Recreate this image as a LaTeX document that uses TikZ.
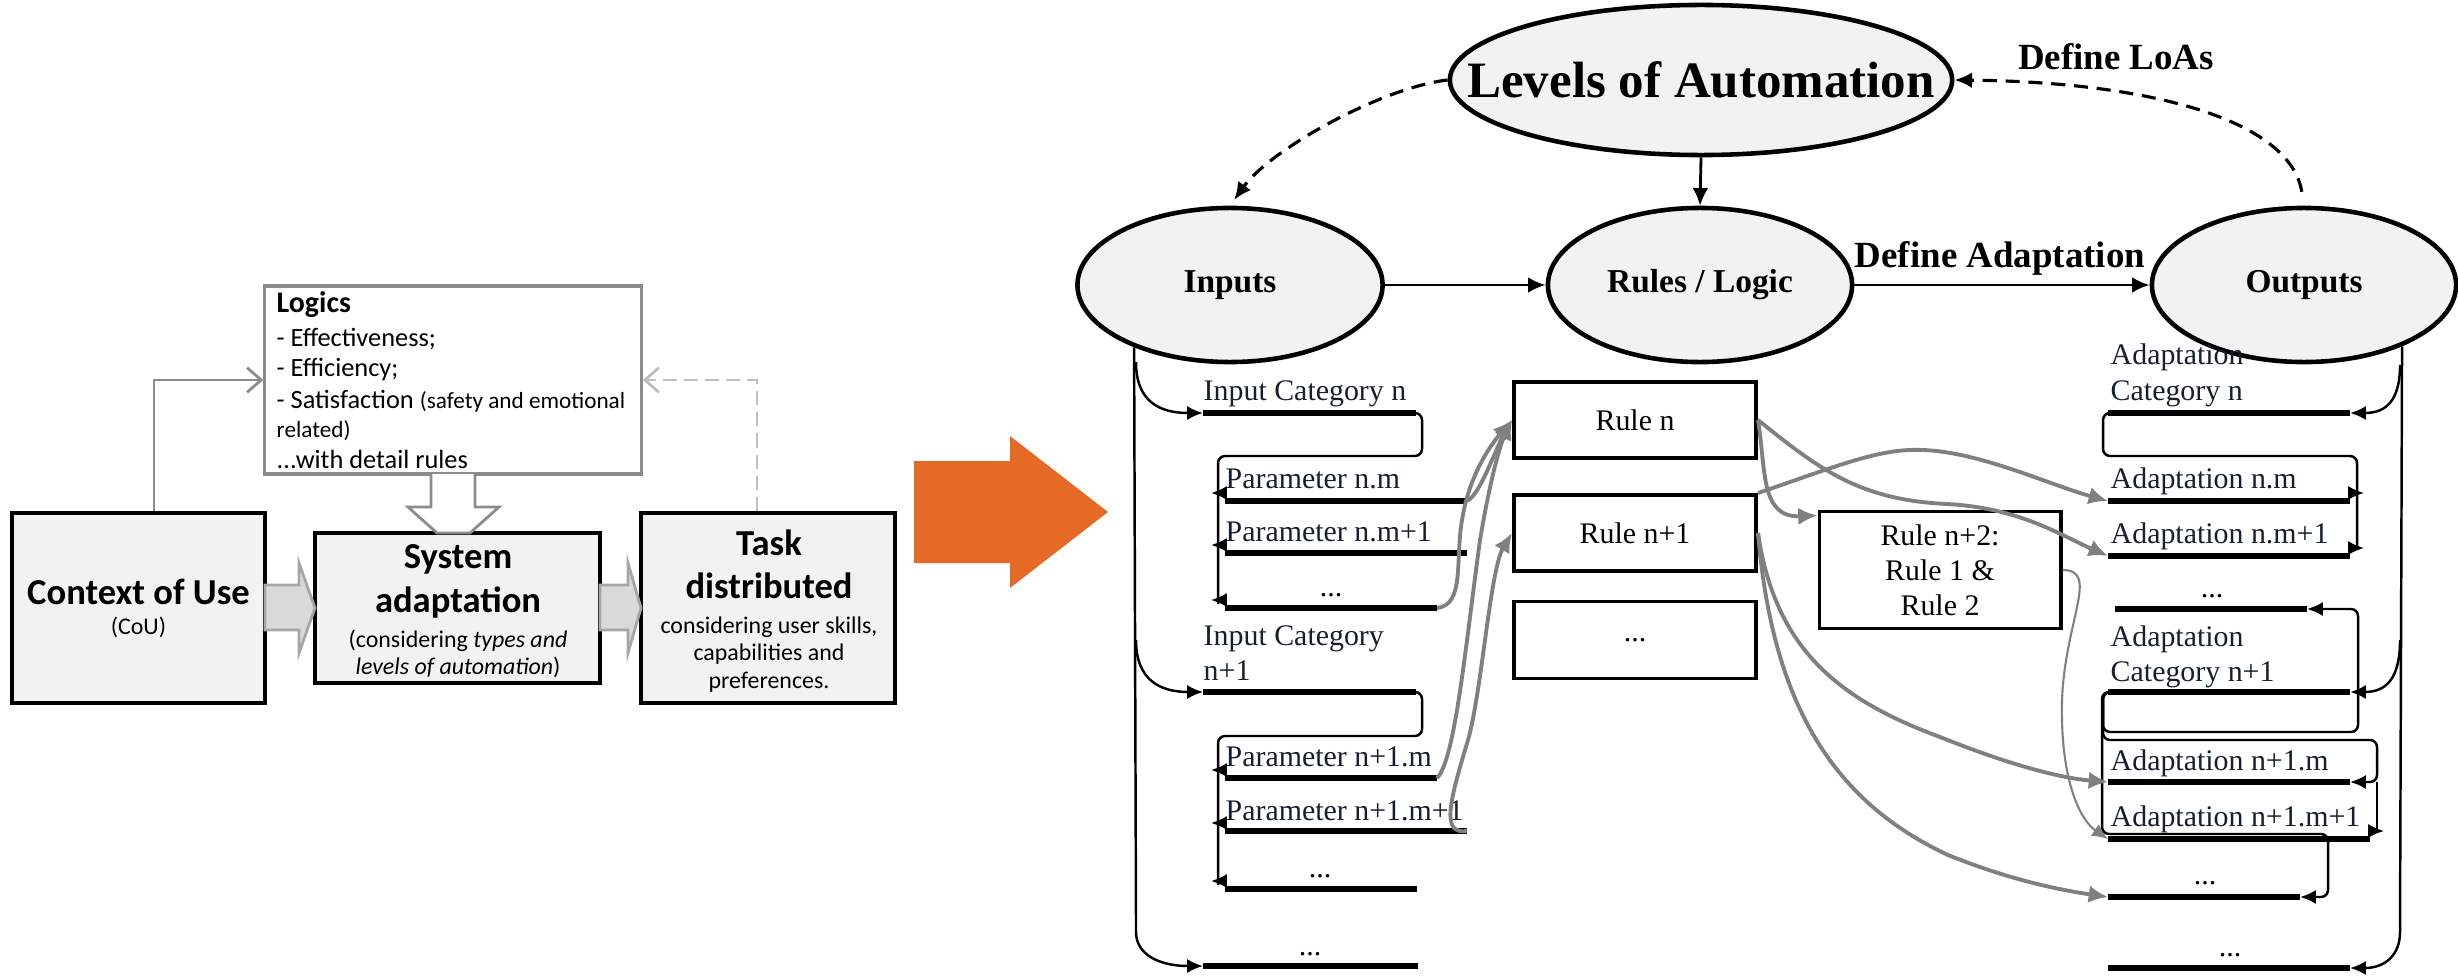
\documentclass[tikz,border=0pt]{standalone}
\usepackage{fontspec}
\setmainfont{Liberation Serif}
\newfontfamily\calibri{Carlito}
\usetikzlibrary{positioning,arrows.meta,shapes.geometric}

\definecolor{ellfill}{RGB}{242,242,242}
\definecolor{boxfill}{RGB}{242,242,242}
\definecolor{arrfill}{RGB}{217,217,217}
\definecolor{arrline}{RGB}{166,166,166}
\definecolor{linegray}{RGB}{140,140,140}
\definecolor{dashgray}{RGB}{191,191,191}
\definecolor{orangearr}{RGB}{228,106,37}
\definecolor{itemtxt}{RGB}{20,32,48}
\definecolor{flowgray}{RGB}{128,128,128}

\tikzset{
  ell/.style={ellipse, draw, line width=1.3pt, fill=ellfill, inner sep=0pt,
    font=\bfseries\fontsize{9.5}{11}\selectfont},
  cbox/.style={draw, line width=1.2pt, fill=boxfill},
  logicbox/.style={draw=linegray, line width=0.9pt, fill=white},
  rulebox/.style={draw, line width=1.1pt, minimum width=2.42cm, minimum height=0.76cm,
    align=center, font=\fontsize{8.5}{10}\selectfont},
  itembar/.style={line width=1.7pt},
  itm/.style={anchor=base west, inner sep=0pt, text=itemtxt, font=\fontsize{8.5}{10}\selectfont},
  dots/.style={anchor=base, inner sep=0pt, font=\fontsize{8.5}{10}\selectfont},
  conn/.style={line width=0.7pt, rounded corners=2pt},
  lhead/.style={-{Latex[length=4.5pt,width=4pt]}, line width=0.7pt},
  flowarr/.style={draw=flowgray, line width=1.1pt, -{Latex[length=5.5pt,width=5pt]}},
  thinflow/.style={draw=flowgray, line width=0.6pt, -{Latex[length=4.5pt,width=4pt]}},
  dasharr/.style={line width=0.9pt, dash pattern=on 4pt off 2.5pt, -{Latex[length=5pt,width=4.5pt]}},
  lgtxt/.style={anchor=base west, inner sep=0pt, font=\calibri\fontsize{7.5}{9}\selectfont},
  bigb/.style={anchor=base, inner sep=0pt, font=\calibri\bfseries\fontsize{10.4}{12}\selectfont},
  smallt/.style={anchor=base, inner sep=0pt, font=\calibri\fontsize{6.8}{8}\selectfont},
  blockarr/.style={draw=arrline, line width=0.8pt, fill=arrfill},
  downarr/.style={draw=linegray, line width=0.8pt, fill=white}
}

\begin{document}
\begin{tikzpicture}[x=0.01cm, y=-0.01cm]
\useasboundingbox (0,0) rectangle (2458,976);

% ---- left: context of use -> adaptation -> task
\node[logicbox, minimum width=3.76cm, minimum height=1.88cm] (logics) at (453,380) {};
\node[lgtxt, font=\calibri\bfseries\fontsize{8.5}{10}\selectfont] (lghead) at (276,312) {Logics};
\node[lgtxt] (lg1) at (276,346) {- Effectiveness;};
\node[lgtxt] (lg2) at (276,376) {- Efficiency;};
\node[lgtxt] (lg3) at (276,408) {- Satisfaction {\fontsize{6.6}{8}\selectfont(safety and emotional}};
\node[lgtxt, font=\calibri\fontsize{6.6}{8}\selectfont] (lg4) at (276,437) {related)};
\node[lgtxt] (lg5) at (276,468) {...with detail rules};

\node[cbox, minimum width=2.53cm, minimum height=1.9cm] (cou) at (138.5,608) {};
\node[cbox, minimum width=2.85cm, minimum height=1.5cm] (sysad) at (457.5,608) {};
\node[cbox, minimum width=2.54cm, minimum height=1.9cm] (task) at (768,608) {};

\node[bigb] (coutitle) at (138.5,604) {Context of Use};
\node[smallt] (cousub) at (138.5,634) {(CoU)};
\node[bigb] (sattl1) at (458,568) {System};
\node[bigb] (sattl2) at (458,612) {adaptation};
\node[smallt] (sasub1) at (458,647) {(considering \textit{types and}};
\node[smallt] (sasub2) at (458,674) {\textit{levels of automation})};
\node[bigb] (taskttl1) at (769,555) {Task};
\node[bigb] (taskttl2) at (769,598) {distributed};
\node[smallt] (tasksub1) at (769,633) {considering user skills,};
\node[smallt] (tasksub2) at (769,660) {capabilities and};
\node[smallt] (tasksub3) at (769,688) {preferences.};

% block arrows
\filldraw[blockarr] (265,585) -- (299,585) -- (299,563) -- (315,608) -- (299,653) -- (299,630) -- (265,630) -- cycle;
\filldraw[blockarr] (600,585) -- (628,585) -- (628,563) -- (641,608) -- (628,653) -- (628,630) -- (600,630) -- cycle;
\filldraw[downarr] (431,474) -- (431,507) -- (408,507) -- (437,533) -- (470,533) -- (499,507) -- (475,507) -- (475,474);

\draw[draw=linegray, line width=0.8pt, -{Straight Barb[length=4pt,width=7pt]}] ([xshift=0.155cm]cou.north) |- (logics.west);
\draw[draw=dashgray, line width=0.8pt, dash pattern=on 4pt off 2pt, -{Straight Barb[length=4pt,width=7pt]}] ([xshift=-0.11cm]task.north) |- (logics.east);

% big orange arrow
\fill[orangearr] (914,461) -- (1010,461) -- (1010,436) -- (1108,512) -- (1010,588) -- (1010,563) -- (914,563) -- cycle;

% ---- right: levels of automation
\node[ell, minimum width=5.02cm, minimum height=1.5cm, font=\bfseries\fontsize{14.5}{17}\selectfont] (loa) at (1701,80) {\makebox[0pt]{Levels of Automation}};
\node[ell, minimum width=3.05cm, minimum height=1.54cm] (inputs) at (1230,285) {Inputs};
\node[ell, minimum width=3.04cm, minimum height=1.54cm] (rules) at (1700,285) {Rules / Logic};
\node[ell, minimum width=3.04cm, minimum height=1.54cm] (outputs) at (2304,285) {Outputs};
\node[font=\bfseries\fontsize{10.5}{12}\selectfont, inner sep=0pt] (defloa) at (2116,57) {Define LoAs};
\node[font=\bfseries\fontsize{10.5}{12}\selectfont, inner sep=0pt] (defadapt) at (2000,258) {Define Adaptation};

\draw[-{Latex[length=5pt,width=4.5pt]}, line width=0.8pt] (loa.south) -- (rules.north);
\draw[-{Latex[length=5pt,width=4.5pt]}, line width=0.8pt] (inputs.east) -- (rules.west);
\draw[-{Latex[length=5pt,width=4.5pt]}, line width=0.8pt] (rules.east) -- (outputs.west);
\draw[dasharr, shorten >=2pt] (loa.west) .. controls (1380,88) and (1270,150) .. (inputs.north);
\draw[dasharr, shorten <=4pt] (outputs.north) .. controls (2290,120) and (2150,82) .. (loa.east);

% ---- inputs column
\coordinate (icn-w) at (1203,413);   \coordinate (icn-e) at (1416,413);
\coordinate (pnm-w) at (1225,501);   \coordinate (pnm-e) at (1467,501);
\coordinate (pnm1-w) at (1225,553);  \coordinate (pnm1-e) at (1467,553);
\coordinate (pnd-w) at (1225,608);   \coordinate (pnd-e) at (1437,608);
\coordinate (icn1-w) at (1203,692);  \coordinate (icn1-e) at (1416,692);
\coordinate (pn1m-w) at (1225,778);  \coordinate (pn1m-e) at (1437,778);
\coordinate (pn1m1-w) at (1225,831); \coordinate (pn1m1-e) at (1467,831);
\coordinate (pn1d-w) at (1225,889);  \coordinate (pn1d-e) at (1417,889);
\coordinate (icd-w) at (1203,966);   \coordinate (icd-e) at (1418,966);
\coordinate (itrk1) at (1136,362);   \coordinate (itrk2) at (1136,640);

\draw[itembar] (icn-w) -- (icn-e);
\draw[itembar] (pnm-w) -- (pnm-e);
\draw[itembar] (pnm1-w) -- (pnm1-e);
\draw[itembar] (pnd-w) -- (pnd-e);
\draw[itembar] (icn1-w) -- (icn1-e);
\draw[itembar] (pn1m-w) -- (pn1m-e);
\draw[itembar] (pn1m1-w) -- (pn1m1-e);
\draw[itembar] (pn1d-w) -- (pn1d-e);
\draw[itembar] (icd-w) -- (icd-e);

\node[itm] (icnt) at (1203,400) {Input Category n};
\node[itm] (pnmt) at (1225,488) {Parameter n.m};
\node[itm] (pnm1t) at (1225,541) {Parameter n.m+1};
\node[dots] (pndt) at (1331,596) {...};
\node[itm] (icn1t) at (1203,645) {Input Category};
\node[itm] (icn1u) at (1203,680) {n+1};
\node[itm] (pn1mt) at (1225,766) {Parameter n+1.m};
\node[itm] (pn1m1t) at (1225,820) {Parameter n+1.m+1};
\node[dots] (pn1dt) at (1320,877) {...};
\node[dots] (icdt) at (1310,955) {...};

\draw[conn, lhead] (inputs.213) -- (1136,925) .. controls (1136,955) and (1160,966) .. (icd-w);
\draw[conn, lhead] (itrk1) .. controls (1136,402) and (1160,413) .. (icn-w);
\draw[conn, lhead] (itrk2) .. controls (1136,680) and (1160,692) .. (icn1-w);
\draw[conn] (icn-e) -| (1422,456) -| (1218,604);
\draw[conn] (icn1-e) -| (1422,736) -| (1218,885);
\draw[lhead] ([yshift=0.08cm]pnm-w) -- ++(-14,0);
\draw[lhead] ([yshift=0.08cm]pnm1-w) -- ++(-14,0);
\draw[lhead] ([yshift=0.08cm]pnd-w) -- ++(-14,0);
\draw[lhead] ([yshift=0.08cm]pn1m-w) -- ++(-14,0);
\draw[lhead] ([yshift=0.08cm]pn1m1-w) -- ++(-14,0);
\draw[lhead] ([yshift=0.08cm]pn1d-w) -- ++(-14,0);

% ---- rules column
\node[rulebox] (rulen) at (1635,420) {Rule n};
\node[rulebox] (rulen1) at (1635,533) {Rule n+1};
\node[rulebox, minimum height=0.77cm] (ruledots) at (1635,640) {...};
\node[rulebox, minimum width=2.41cm, minimum height=1.17cm, font=\fontsize{8.5}{10}\selectfont] (rulen2) at (1940,570) {Rule n+2:\\Rule 1 \&\\Rule 2};

% ---- outputs column
\coordinate (acn-w) at (2108,413);   \coordinate (acn-e) at (2350,413);
\coordinate (anm-w) at (2108,501);   \coordinate (anm-e) at (2350,501);
\coordinate (anm1-w) at (2108,556);  \coordinate (anm1-e) at (2350,556);
\coordinate (and-w) at (2115,609);   \coordinate (and-e) at (2307,609);
\coordinate (acn1-w) at (2108,692);  \coordinate (acn1-e) at (2350,692);
\coordinate (an1m-w) at (2108,782);  \coordinate (an1m-e) at (2350,782);
\coordinate (an1m1-w) at (2108,839); \coordinate (an1m1-e) at (2370,839);
\coordinate (an1d-w) at (2108,897);  \coordinate (an1d-e) at (2300,897);
\coordinate (acd-w) at (2108,968);   \coordinate (acd-e) at (2350,968);
\coordinate (otrk1) at (2400,365);   \coordinate (otrk2) at (2400,640);

\draw[itembar] (acn-w) -- (acn-e);
\draw[itembar] (anm-w) -- (anm-e);
\draw[itembar] (anm1-w) -- (anm1-e);
\draw[itembar] (and-w) -- (and-e);
\draw[itembar] (acn1-w) -- (acn1-e);
\draw[itembar] (an1m-w) -- (an1m-e);
\draw[itembar] (an1m1-w) -- (an1m1-e);
\draw[itembar] (an1d-w) -- (an1d-e);
\draw[itembar] (acd-w) -- (acd-e);

\node[itm] (acnt) at (2110,364) {Adaptation};
\node[itm] (acnu) at (2110,400) {Category n};
\node[itm] (anmt) at (2110,488) {Adaptation n.m};
\node[itm] (anm1t) at (2110,543) {Adaptation n.m+1};
\node[dots] (andt) at (2212,597) {...};
\node[itm] (acn1t) at (2110,646) {Adaptation};
\node[itm] (acn1u) at (2110,681) {Category n+1};
\node[itm] (an1mt) at (2110,770) {Adaptation n+1.m};
\node[itm] (an1m1t) at (2110,826) {Adaptation n+1.m+1};
\node[dots] (an1dt) at (2205,884) {...};
\node[dots] (acdt) at (2230,956) {...};

\draw[conn, lhead] (outputs.-32) -- (2400,925) .. controls (2400,955) and (2385,968) .. (acd-e);
\draw[conn, lhead] (otrk1) .. controls (2400,402) and (2385,413) .. (acn-e);
\draw[conn, lhead] (otrk2) .. controls (2400,680) and (2385,692) .. (acn1-e);
\draw[conn] (acn-w) -| (2103,456) -| (2357,548);
\draw[lhead] ([yshift=0.08cm]anm-e) -- ++(14,0);
\draw[lhead] ([yshift=0.08cm]anm1-e) -- ++(14,0);
\draw[conn, lhead] (acn1-w) -| (2103,732) -| (2358,609) -- (and-e);
\draw[conn, lhead] (acn1-w) -| (2103,740) -| (2377,782) -- (an1m-e);
\draw[conn] (2377,782) -- (2377,830);
\draw[lhead] ([yshift=0.08cm]an1m1-e) -- ++(14,0);
\draw[conn, lhead] (acn1-w) -| (2102,834) -| (2328,897) -- (an1d-e);

% ---- flows through the rules
\draw[flowarr] (pnm-e) .. controls (1480,495) and (1495,450) .. (rulen.west);
\draw[flowarr] (pnd-e) .. controls (1465,605) and (1455,560) .. (1462,520) .. controls (1470,470) and (1495,440) .. (rulen.west);
\draw[flowarr] (pn1m-e) .. controls (1455,760) and (1465,650) .. (1480,540) .. controls (1490,480) and (1500,445) .. (rulen.west);
\draw[flowarr] (pn1m1-e) .. controls (1440,835) and (1450,800) .. (1468,740) .. controls (1482,690) and (1490,570) .. (rulen1.west);
\draw[flowarr] (rulen.east) .. controls (1766,470) and (1760,518) .. (rulen2.156);
\draw[flowarr] (rulen.east) .. controls (1820,470) and (1860,500) .. (1947,504) .. controls (2020,508) and (2060,535) .. (anm1-w);
\draw[flowarr] (rulen1.north east) .. controls (1840,465) and (1880,448) .. (1923,450) .. controls (1980,452) and (2050,485) .. (anm-w);
\draw[flowarr] (rulen1.east) .. controls (1775,650) and (1840,700) .. (1940,737) .. controls (2010,765) and (2060,778) .. (an1m-w);
\draw[flowarr] (rulen1.east) .. controls (1772,700) and (1830,800) .. (1948,855) .. controls (2010,880) and (2060,890) .. (an1d-w);
\draw[thinflow] (rulen2.east) .. controls (2100,570) and (2065,620) .. (2062,700) .. controls (2060,780) and (2080,820) .. (an1m1-w);
\end{tikzpicture}
\end{document}
